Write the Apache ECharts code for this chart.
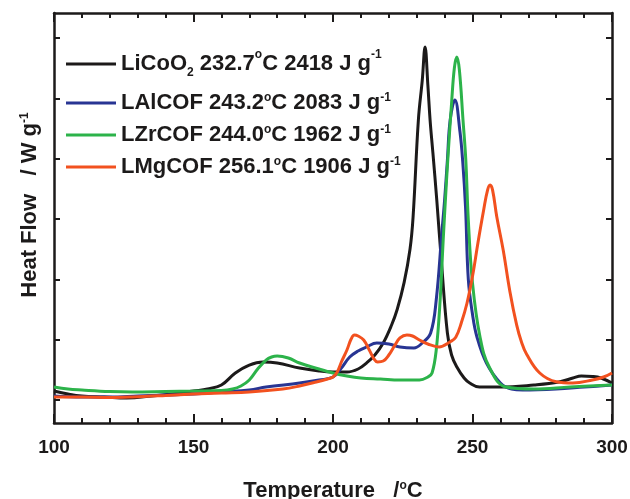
<!DOCTYPE html>
<html>
<head>
<meta charset="utf-8">
<title>DSC</title>
<script src="https://cdn.jsdelivr.net/npm/echarts@6/dist/echarts.min.js"></script>
<style>
    html, body { margin: 0; padding: 0; background: #fff; }
    #main { width: 630px; height: 499px; }
</style>
</head>
<body>
<div id="main"></div>
<script>
// heat flow values in arbitrary units (1 unit = one y tick spacing)
var liCoO2 = [[100,0.149],[105,0.099],[110,0.066],[118,0.050],[126,0.033],[135,0.066],[145,0.116],[150,0.149],[155,0.182],[160,0.249],[165,0.448],[170,0.580],[175,0.630],[180,0.613],[188,0.530],[195,0.481],[200,0.464],[205,0.464],[209,0.514],[212,0.613],[215,0.746],[218,0.945],[221,1.243],[223,1.50],[225.5,1.95],[227.6,2.50],[228.7,3.033],[230.6,4.641],[232,5.304],[233,5.851],[234,5.221],[234.8,4.641],[235.8,4.10],[237.2,3.315],[239,2.205],[241,1.111],[242.5,0.746],[244.4,0.547],[247,0.365],[249,0.282],[252.5,0.215],[260,0.215],[272,0.249],[281,0.298],[286,0.365],[289,0.398],[293,0.390],[296,0.365],[300,0.282]];
var lAlCOF = [[100,0.066],[110,0.050],[120,0.050],[130,0.066],[140,0.083],[150,0.099],[160,0.133],[170,0.166],[176,0.215],[188,0.282],[195,0.332],[200,0.381],[203,0.530],[206,0.713],[209,0.812],[212,0.879],[215.7,0.945],[220,0.928],[224,0.879],[229,0.862],[232,0.945],[235,1.111],[237,1.658],[239,2.768],[240,3.315],[241,3.978],[242,4.641],[243.7,4.973],[245.5,4.45],[246.5,3.95],[247.5,3.2],[248.5,2.0],[250,1.42],[251.6,1.044],[255,0.613],[260,0.282],[264,0.182],[268,0.166],[280,0.182],[290,0.215],[300,0.249]];
var lZrCOF = [[100,0.215],[105,0.182],[110,0.166],[120,0.141],[128,0.133],[140,0.141],[150,0.149],[160,0.158],[164,0.182],[167,0.232],[170,0.332],[173,0.514],[176,0.663],[178,0.713],[180,0.729],[184,0.696],[188,0.613],[195,0.514],[200,0.448],[205,0.398],[210,0.365],[217,0.348],[224,0.332],[231,0.332],[234,0.381],[235.5,0.448],[237,0.829],[238.4,1.658],[239.5,2.652],[240.7,3.647],[241.6,4.310],[242.5,4.923],[243.5,5.503],[244.4,5.685],[245.3,5.470],[246.6,4.641],[247.6,3.978],[248.5,2.984],[250,1.939],[252.7,1.044],[256,0.547],[262,0.215],[272,0.182],[285,0.215],[300,0.249]];
var lMgCOF = [[100,0.050],[110,0.050],[120,0.041],[128,0.050],[140,0.075],[150,0.099],[160,0.116],[170,0.133],[182,0.182],[188,0.232],[194,0.298],[198,0.348],[200,0.381],[201.5,0.464],[203,0.630],[205,0.829],[206.5,1.011],[207.7,1.077],[209,1.061],[211,0.995],[213,0.829],[214.5,0.696],[216,0.630],[218,0.646],[220,0.746],[222,0.895],[224,1.028],[226.5,1.077],[228.5,1.061],[231,0.995],[234,0.928],[238,0.879],[242,0.966],[244,1.04],[246,1.28],[248,1.6],[250,2.05],[252,2.62],[254,3.15],[255.4,3.48],[256.3,3.564],[257.2,3.48],[258.7,3.038],[261,2.486],[263.4,1.80],[265.8,1.25],[267.5,0.97],[269.4,0.76],[274.1,0.448],[280,0.303],[286,0.282],[293,0.332],[297,0.381],[300,0.448]];

var names = ['LiCoO2', 'LAlCOF', 'LZrCOF', 'LMgCOF'];
var labels = [
    'LiCoO{sub|2} 232.7{sup|o}C 2418 J g{sup|-1}',
    'LAlCOF 243.2{sup|o}C 2083 J g{sup|-1}',
    'LZrCOF 244.0{sup|o}C 1962 J g{sup|-1}',
    'LMgCOF 256.1{sup|o}C 1906 J g{sup|-1}'
];
var colors = ['#1c1a1a', '#283593', '#2cb34a', '#f2511f'];
var xTicks = [100, 150, 200, 250, 300];
var yTicks = [0, 1, 2, 3, 4, 5, 6];
var seriesData = [liCoO2, lAlCOF, lZrCOF, lMgCOF];

var font = 'Liberation Sans, Arial, sans-serif';
var rich = {
    sup: { fontSize: 12, fontWeight: 'bold', fontFamily: font, color: '#1c1a1a', verticalAlign: 'top', lineHeight: 22 },
    sub: { fontSize: 12, fontWeight: 'bold', fontFamily: font, color: '#1c1a1a', verticalAlign: 'bottom', lineHeight: 30 }
};

var legendTops = [44, 87, 119, 151];
var legends = [];
for (var i = 0; i < names.length; i++) {
    legends.push({
        data: [names[i]],
        left: 61,
        top: legendTops[i],
        itemWidth: 50,
        itemHeight: 3,
        icon: 'rect',
        formatter: (function (k) { return function () { return labels[k]; }; })(i),
        textStyle: { fontSize: 22, fontWeight: 'bold', fontFamily: font, color: '#1c1a1a', rich: rich }
    });
}

var axisLine = { show: true, onZero: false, lineStyle: { color: '#1c1a1a', width: 2.5 } };

var myChart = echarts.init(document.getElementById('main'), null, { renderer: 'canvas' });
var option = {
    animation: false,
    backgroundColor: '#fff',
    grid: { left: 54, right: 18, top: 13, bottom: 76, outerBoundsMode: 'none', containLabel: false },
    legend: legends,
    xAxis: [{
        type: 'value', min: 100, max: 300, interval: 50, position: 'bottom',
        name: 'Temperature   /{sup|o}C', nameLocation: 'middle', nameGap: 57,
        nameTextStyle: { fontSize: 22, fontWeight: 'bold', fontFamily: font, color: '#1c1a1a', rich: rich },
        axisLine: axisLine,
        axisTick: { inside: true, length: 9, lineStyle: { width: 2, color: '#1c1a1a' } },
        minorTick: { show: true, splitNumber: 5, length: 5, lineStyle: { width: 2, color: '#1c1a1a' } },
        axisLabel: { margin: 15, fontSize: 19, fontWeight: 'bold', fontFamily: font, color: '#1c1a1a',
            customValues: xTicks },
        splitLine: { show: false }
    }, {
        type: 'value', min: 100, max: 300, interval: 50, position: 'top',
        axisLine: axisLine,
        axisTick: { inside: true, length: 9, lineStyle: { width: 2, color: '#1c1a1a' } },
        minorTick: { show: true, splitNumber: 5, length: 5, lineStyle: { width: 2, color: '#1c1a1a' } },
        axisLabel: { show: false },
        splitLine: { show: false }
    }],
    yAxis: [{
        type: 'value', min: -0.381, max: 6.415, position: 'left',
        name: 'Heat Flow   / W g{sup|-1}', nameLocation: 'middle', nameGap: 13,
        nameTextStyle: { fontSize: 22, fontWeight: 'bold', fontFamily: font, color: '#1c1a1a', rich: rich,
            padding: [0, 0, 0, 26] },
        axisLine: axisLine,
        axisTick: { inside: true, length: 6, customValues: yTicks, lineStyle: { width: 2, color: '#1c1a1a' } },
        axisLabel: { show: false },
        splitLine: { show: false }
    }, {
        type: 'value', min: -0.381, max: 6.415, position: 'right',
        axisLine: axisLine,
        axisTick: { inside: true, length: 6, customValues: yTicks, lineStyle: { width: 2, color: '#1c1a1a' } },
        axisLabel: { show: false },
        splitLine: { show: false }
    }],
    series: names.map(function (n, k) {
        return {
            name: n,
            type: 'line',
            data: seriesData[k],
            smooth: 0.4,
            symbol: 'none',
            color: colors[k],
            lineStyle: { width: 3, color: colors[k] }
        };
    })
};
myChart.setOption(option);
</script>
</body>
</html>
